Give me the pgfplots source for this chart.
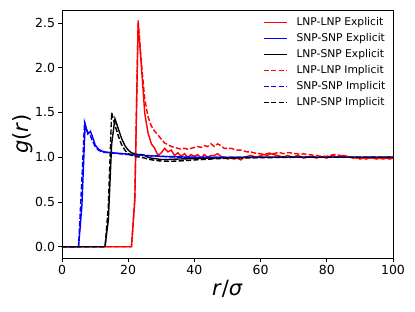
\documentclass[border=0pt]{standalone}
\usepackage{pgfplots}
\pgfplotsset{compat=1.18}
\usepackage{fontspec}
\setmainfont{DejaVu Sans}
\begin{document}
\begin{tikzpicture}
\path[use as bounding box] (-62pt,-53pt) rectangle (353pt,258pt);
\begin{axis}[
  at={(0pt,0pt)}, anchor=south west,
  scale only axis, width=331pt, height=248pt,
  xmin=0, xmax=100, ymin=-0.126, ymax=2.646,
  xtick={0,20,40,60,80,100},
  ytick={0,0.5,1.0,1.5,2.0,2.5},
  yticklabel style={/pgf/number format/.cd, fixed, fixed zerofill, precision=1},
  /pgf/number format/assume math mode=true,
  ticklabel style={font=\fontsize{12.5}{14}\selectfont},
  tick align=outside, major tick length=3.5pt,
  every tick/.style={black, line width=0.75pt},
  axis line style={line width=0.75pt},
  xtick pos=bottom, ytick pos=left,
  xlabel={\textit{r}/\textit{σ}},
  ylabel={\textit{g}(\textit{r})},
  label style={font=\fontsize{21}{24}\selectfont},
  xlabel style={at={(axis description cs:0.5,0)}, anchor=center, yshift=-31pt},
  ylabel style={at={(axis description cs:0,0.5)}, anchor=center, yshift=39pt},
  legend style={draw=none, fill=none, at={(axis description cs:0.607,0.978)}, anchor=north west,
    font=\fontsize{10.7}{12}\selectfont, cells={anchor=west}, row sep=2.4pt, inner sep=0pt,
    /tikz/every odd column/.append style={column sep=7pt}},
  legend image code/.code={\draw[#1] (0pt,0pt) -- (23pt,0pt);},
]
% LNP-LNP Explicit
\addplot[color=red, solid, line width=1.4pt, mark=none] coordinates {
(0,0) (21,0) (22,0.52) (23,2.50) (24,2.01) (25,1.49) (26,1.27) (27,1.15) (28,1.10) (29,1.02)
(30,1.05) (31,1.10) (32,1.06) (33,1.08) (34,1.02) (35,1.05) (36,1.01) (37,1.04) (38,1.00) (39,1.03)
(40,1.01) (41,1.03) (42,0.99) (43,1.03) (44,1.00) (45,1.02) (46,1.02) (47,1.04) (48,1.01) (49,1.00)
(50,0.98) (51,0.99) (52,0.98) (53,0.99) (54,0.97) (55,1.00) (56,1.01) (57,1.02) (58,1.01) (59,1.00)
(60,1.02) (61,1.03) (62,1.02) (63,1.04) (64,1.03) (65,1.02) (66,1.01) (67,1.00) (68,1.02) (69,1.01)
(70,1.00) (71,1.02) (72,1.01) (73,0.99) (74,1.00) (75,1.01) (76,1.00) (77,0.99) (78,1.01) (79,1.00)
(80,0.99) (81,1.01) (82,1.02) (83,1.00) (84,1.01) (85,1.02) (86,1.01) (87,1.00) (88,0.99) (89,1.00)
(90,0.98) (91,0.99) (92,0.98) (93,1.00) (94,0.99) (95,0.98) (96,0.99) (97,0.98) (98,0.99) (99,0.98) (100,0.99)
};
\addlegendentry{LNP-LNP Explicit}
% SNP-SNP Explicit
\addplot[color=blue, solid, line width=1.4pt, mark=none] coordinates {
(0,0) (5,0) (6,0.45) (7,1.37) (7.8,1.26) (8.6,1.29) (9.5,1.20) (10,1.14) (11,1.09) (12,1.07)
(13,1.06) (15,1.05) (17,1.045) (20,1.035) (25,1.02) (30,1.01) (35,1.005) (40,1.0)
(50,1.0) (60,1.0) (70,1.0) (80,1.0) (90,1.0) (100,1.0)
};
\addlegendentry{SNP-SNP Explicit}
% LNP-SNP Explicit
\addplot[color=black, solid, line width=1.4pt, mark=none] coordinates {
(0,0) (13,0) (14,0.3) (15,1.15) (16,1.43) (17,1.32) (18,1.21) (19,1.13) (20,1.08) (21,1.05)
(22,1.04) (23,1.03) (24,1.03) (25,1.02) (26,1.00) (27,0.99) (28,0.985) (30,0.975) (32,0.975)
(35,0.98) (40,0.985) (45,0.99) (50,0.995) (60,1.0) (70,1.0) (80,1.0) (90,1.0) (100,1.0)
};
\addlegendentry{LNP-SNP Explicit}
% LNP-LNP Implicit
\addplot[color=red, line width=1.4pt, mark=none, dash pattern=on 5.2pt off 2.2pt] coordinates {
(0,0) (21,0) (22,0.55) (23,2.53) (24,2.05) (25,1.65) (26,1.45) (27,1.35) (28,1.29) (29,1.25)
(30,1.20) (31,1.16) (32,1.14) (33,1.12) (34,1.11) (35,1.10) (36,1.09) (37,1.10) (38,1.09) (39,1.10)
(40,1.11) (41,1.12) (42,1.11) (43,1.13) (44,1.12) (45,1.15) (46,1.12) (47,1.15) (48,1.13) (49,1.10)
(50,1.10) (51,1.10) (52,1.09) (53,1.08) (54,1.08) (55,1.07) (56,1.06) (57,1.06) (58,1.05) (59,1.04)
(60,1.04) (61,1.03) (62,1.04) (63,1.05) (64,1.04) (65,1.05) (66,1.05) (67,1.04) (68,1.05) (69,1.05)
(70,1.04) (71,1.04) (72,1.03) (73,1.04) (74,1.03) (75,1.03) (76,1.02) (77,1.02) (78,1.01) (79,1.01)
(80,1.01) (81,1.02) (82,1.03) (83,1.03) (84,1.02) (85,1.02) (86,1.01) (87,1.00) (88,1.00) (89,0.99)
(90,0.99) (91,1.00) (92,0.99) (93,0.99) (94,1.00) (95,0.99) (96,0.99) (97,1.00) (98,0.99) (99,1.00) (100,1.00)
};
\addlegendentry{LNP-LNP Implicit}
% SNP-SNP Implicit
\addplot[color=blue, line width=1.4pt, mark=none, dash pattern=on 5.2pt off 2.2pt] coordinates {
(0,0) (5,0) (6,0.75) (6.8,1.39) (7.5,1.30) (8,1.27) (8.5,1.25) (9,1.20) (10,1.12) (11,1.08)
(12,1.06) (14,1.05) (17,1.04) (20,1.03) (25,1.02) (30,1.01) (35,1.0) (40,1.0)
(50,1.0) (60,1.0) (70,1.0) (80,1.0) (90,1.0) (100,1.0)
};
\addlegendentry{SNP-SNP Implicit}
% LNP-SNP Implicit
\addplot[color=black, line width=1.4pt, mark=none, dash pattern=on 5.2pt off 2.2pt] coordinates {
(0,0) (13,0) (14,0.45) (15,1.50) (16,1.36) (17,1.24) (18,1.14) (19,1.08) (20,1.04) (21,1.02)
(22,1.01) (24,1.0) (26,0.98) (28,0.965) (30,0.958) (33,0.955) (36,0.96) (40,0.97) (45,0.98)
(50,0.99) (60,0.995) (70,1.0) (80,1.0) (90,1.0) (100,1.0)
};
\addlegendentry{LNP-SNP Implicit}
\end{axis}
\end{tikzpicture}
\end{document}
